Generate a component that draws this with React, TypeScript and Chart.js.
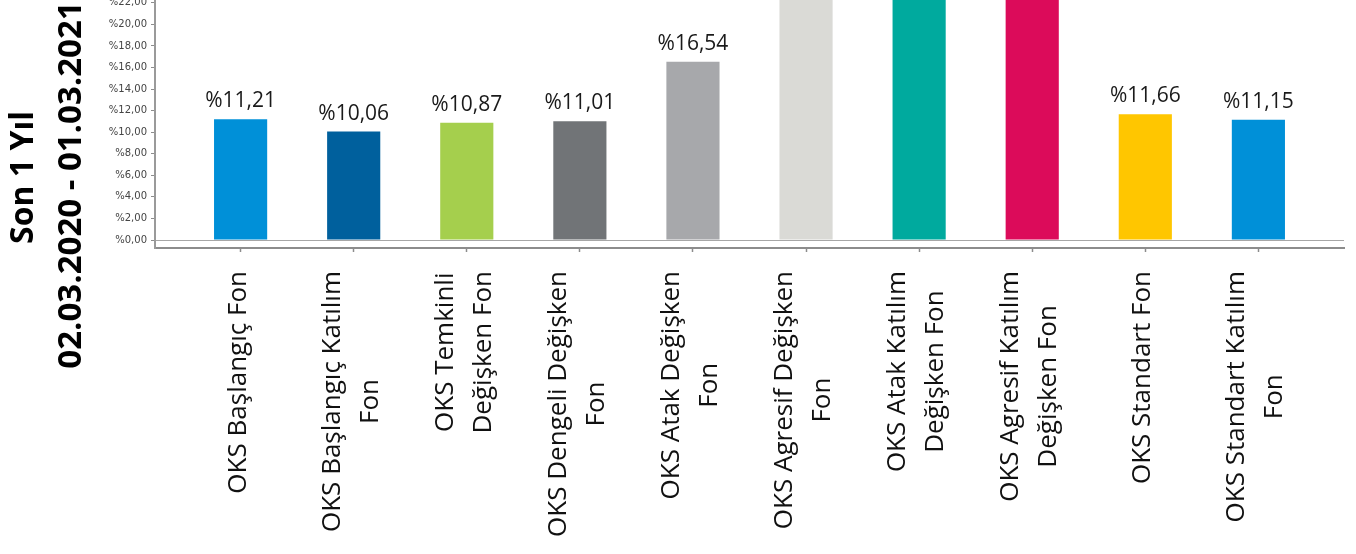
import React, { useEffect, useRef } from "react";
import { Chart, registerables } from "chart.js";

Chart.register(...registerables);

// ---- data ----
const categories: string[][] = [
  ["OKS Başlangıç Fon"],
  ["OKS Başlangıç Katılım", "Fon"],
  ["OKS Temkinli", "Değişken Fon"],
  ["OKS Dengeli Değişken", "Fon"],
  ["OKS Atak Değişken", "Fon"],
  ["OKS Agresif Değişken", "Fon"],
  ["OKS Atak Katılım", "Değişken Fon"],
  ["OKS Agresif Katılım", "Değişken Fon"],
  ["OKS Standart Fon"],
  ["OKS Standart Katılım", "Fon"],
];
const values: number[] = [11.21, 10.06, 10.87, 11.01, 16.54, 25.4, 28.6, 27.2, 11.66, 11.15];
const barColors: string[] = [
  "#0090D8",
  "#00609D",
  "#A5CF4D",
  "#717477",
  "#A7A8AB",
  "#DADAD6",
  "#00AA9E",
  "#DC0B5A",
  "#FFC600",
  "#0090D8",
];
const yTicks: number[] = [0, 2, 4, 6, 8, 10, 12, 14, 16, 18, 20, 22, 24, 26, 28, 30];
const periodTitle: string[] = ["Son 1 Yıl", "02.03.2020 - 01.03.2021"];

const fmt = (v: number) => "%" + v.toFixed(2).replace(".", ",");

const OFF = 100; // canvas extends above the visible page (reference is cropped at top)

const valueLabels = {
  id: "valueLabels",
  afterDatasetsDraw(chart: any) {
    const meta = chart.getDatasetMeta(0);
    const ctx = chart.ctx;
    ctx.save();
    ctx.font = '21px "Open Sans"';
    ctx.fillStyle = "#1a1a1a";
    ctx.textAlign = "center";
    ctx.textBaseline = "alphabetic";
    meta.data.forEach((el: any, i: number) => {
      ctx.fillText(fmt(values[i]), el.x, el.y - 12);
    });
    ctx.restore();
  },
};

const categoryLabels = {
  id: "categoryLabels",
  afterDraw(chart: any) {
    const ctx = chart.ctx;
    const xs = chart.scales.x;
    const top = chart.chartArea.bottom + 23;
    const lh = 38;
    ctx.save();
    ctx.font = '26px "Open Sans"';
    ctx.fillStyle = "#111111";
    ctx.textAlign = "center";
    ctx.textBaseline = "alphabetic";
    categories.forEach((lines, i) => {
      const px = xs.getPixelForValue(i);
      const maxW = Math.max(...lines.map((l) => ctx.measureText(l).width));
      const cy = top + maxW / 2;
      lines.forEach((line, j) => {
        const bx = px + 5 + (j - (lines.length - 1) / 2) * lh;
        ctx.save();
        ctx.translate(bx, cy);
        ctx.rotate(-Math.PI / 2);
        ctx.fillText(line, 0, 0);
        ctx.restore();
      });
    });
    ctx.restore();
  },
};

const sideTitle = {
  id: "sideTitle",
  afterDraw(chart: any) {
    const ctx = chart.ctx;
    const b = chart.chartArea.bottom;
    const pos = [
      { x: 33, cy: b - 70.5, size: 32 },
      { x: 81, cy: b - 63, size: 33 },
    ];
    ctx.save();
    ctx.fillStyle = "#000000";
    ctx.textAlign = "center";
    ctx.textBaseline = "alphabetic";
    periodTitle.forEach((t, i) => {
      ctx.save();
      ctx.font = `bold ${pos[i].size}px "Open Sans"`;
      ctx.translate(pos[i].x, pos[i].cy);
      ctx.rotate(-Math.PI / 2);
      ctx.fillText(t, 0, 0);
      ctx.restore();
    });
    ctx.restore();
  },
};

export default function App() {
  const ref = useRef<HTMLCanvasElement | null>(null);

  useEffect(() => {
    let chart: Chart | null = null;
    let cancelled = false;
    const fontsReady = (document as any).fonts
      ? Promise.all([
          (document as any).fonts.load('26px "Open Sans"'),
          (document as any).fonts.load('bold 32px "Open Sans"'),
          (document as any).fonts.load('10px "DejaVu Sans"'),
        ]).catch(() => null)
      : Promise.resolve(null);
    fontsReady.then(() => {
      if (cancelled || !ref.current) return;
      chart = new Chart(ref.current, {
        type: "bar",
        data: {
          datasets: [
            {
              data: values.map((v, i) => ({ x: i, y: v })),
              backgroundColor: barColors,
              borderWidth: 0,
              barPercentage: 0.47,
              categoryPercentage: 1,
            } as any,
          ],
        },
        options: {
          animation: false,
          responsive: true,
          maintainAspectRatio: false,
          layout: { padding: { top: 16.6, right: 12, left: 0, bottom: 0 } },
          plugins: {
            legend: { display: false },
            tooltip: { enabled: false },
          },
          scales: {
            x: {
              type: "linear",
              offset: false,
              min: -0.757,
              max: 9.757,
              afterBuildTicks: (s: any) => {
                s.ticks = categories.map((_, i) => ({ value: i }));
              },
              ticks: { display: false },
              grid: {
                offset: false,
                drawOnChartArea: false,
                drawTicks: true,
                tickLength: 4,
                tickColor: "#8c8c8c",
                tickWidth: 1.5,
              },
              border: { display: true, color: "#8c8c8c", width: 2 },
              afterFit: (s: any) => {
                s.height = 306;
              },
            },
            y: {
              type: "linear",
              min: -0.742,
              max: 30,
              afterBuildTicks: (s: any) => {
                s.ticks = yTicks.map((v) => ({ value: v }));
              },
              ticks: {
                callback: (v: any) => fmt(Number(v)),
                font: { family: "DejaVu Sans", size: 10 },
                color: "#444444",
                padding: 4,
              },
              grid: {
                color: (c: any) => (c.tick && c.tick.value === 0 ? "#a6a6a6" : "rgba(0,0,0,0)"),
                tickColor: "#8c8c8c",
                tickLength: 4,
                lineWidth: 1,
              },
              border: { display: true, color: "#9a9a9a", width: 2 },
              afterFit: (s: any) => {
                s.width = 155;
              },
            },
          },
        } as any,
        plugins: [valueLabels, categoryLabels, sideTitle],
      });
    });
    return () => {
      cancelled = true;
      if (chart) chart.destroy();
    };
  }, []);

  return (
    <div
      style={{
        position: "fixed",
        left: 0,
        top: -OFF,
        width: 1356,
        height: 554 + OFF,
        background: "#ffffff",
      }}
    >
      <canvas ref={ref} />
    </div>
  );
}
